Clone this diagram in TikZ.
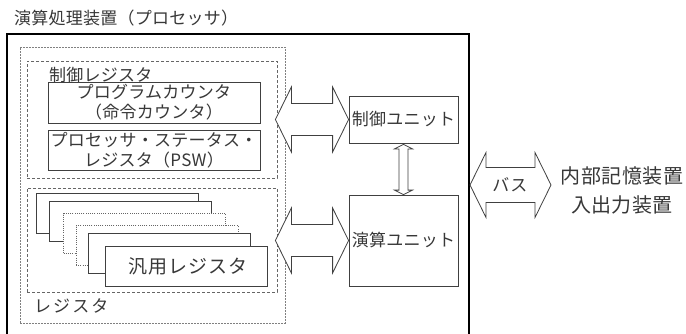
\documentclass[tikz,border=0pt]{standalone}
\usepackage{fontspec}
\setmainfont{Noto Sans CJK JP}
\usetikzlibrary{calc}
\newcommand\harrowfig[5]{%
  \draw[blockarrow] let \p1=#1, \p2=#2 in
    (\x1,\y1) -- (\x1+#3,\y1+#4) -- (\x1+#3,\y1+#5) -- (\x2-#3,\y1+#5) -- (\x2-#3,\y1+#4)
    -- (\x2,\y1) -- (\x2-#3,\y1-#4) -- (\x2-#3,\y1-#5) -- (\x1+#3,\y1-#5) -- (\x1+#3,\y1-#4) -- cycle;}
\newcommand\varrowfig[5]{%
  \draw[blockarrow] let \p1=#1, \p2=#2 in
    (\x1,\y1) -- (\x1+#4,\y1-#3) -- (\x1+#5,\y1-#3) -- (\x1+#5,\y2+#3) -- (\x1+#4,\y2+#3)
    -- (\x1,\y2) -- (\x1-#4,\y2+#3) -- (\x1-#5,\y2+#3) -- (\x1-#5,\y1-#3) -- (\x1-#4,\y1-#3) -- cycle;}
\tikzset{
  txt/.style={text=black!78, inner sep=0pt, font=\fontsize{17}{20}\selectfont\addfontfeatures{LetterSpace=1.5}, align=center},
  box/.style={draw=black!75, line width=0.8pt, fill=white, inner sep=0pt},
  dbox/.style={draw=black!60, line width=0.8pt, dash pattern=on 3pt off 2pt, inner sep=0pt},
  dotbox/.style={draw=black!60, line width=0.8pt, dash pattern=on 1pt off 1.2pt, fill=white, inner sep=0pt},
  stackbox/.style={box, minimum width=162pt, minimum height=40pt},
  blockarrow/.style={draw=black!75, line width=0.8pt, fill=white, line join=miter},
}
\begin{document}
\begin{tikzpicture}[x=1pt,y=-1pt]
\useasboundingbox (0,0) rectangle (686,333);
\fill[white] (0,0) rectangle (686,333);
% processor
\node[draw=black, line width=2pt, minimum width=462pt, minimum height=310pt, inner sep=0pt] (proc) at (238,189) {};
\node[txt, anchor=west] (title) at (14,18) {演算処理装置（プロセッサ）};
% registers outer
\node[draw=black!50, line width=0.7pt, dash pattern=on 2pt off 1pt, minimum width=265pt, minimum height=276pt, inner sep=0pt] (regouter) at (152.5,185) {};
\node[txt, anchor=west, font=\fontsize{17}{20}\selectfont\addfontfeatures{LetterSpace=12}] (reglabel) at (34,306) {レジスタ};
% control registers
\node[dbox, minimum width=250pt, minimum height=117pt] (ctrlreg) at (152,119.5) {};
\node[txt, anchor=west] (ctrlreglabel) at (49,75) {制御レジスタ};
\node[box, minimum width=212pt, minimum height=41pt] (pc) at (154,102.5) {};
\node[txt] (pctext) at (pc) {プログラムカウンタ\\（命令カウンタ）};
\node[box, minimum width=212pt, minimum height=40pt] (psw) at (154,150) {};
\node[txt] (pswtext) at (psw) {プロセッサ・ステータス・\\レジスタ（PSW）};
% general registers
\node[dbox, minimum width=250pt, minimum height=104pt] (gpreg) at (152,240) {};
\node[stackbox] (s1) at (117.5,213) {};
\node[stackbox] (s2) at (130,221) {};
\node[dotbox, minimum width=162pt, minimum height=40pt] (s3) at (144.5,233.5) {};
\node[dotbox, minimum width=162pt, minimum height=40pt] (s4) at (157,245.5) {};
\node[stackbox] (s5) at (169.5,253.5) {};
\node[stackbox] (s6) at (186,266) {};
\node[txt, font=\fontsize{19}{20}\selectfont\addfontfeatures{LetterSpace=5}] (gptext) at (188,266) {汎用レジスタ};
% units
\node[box, minimum width=109pt, minimum height=47pt] (cu) at (403.5,119.5) {};
\node[txt] (cutext) at (cu) {制御ユニット};
\node[box, minimum width=109pt, minimum height=91pt] (alu) at (403.5,240.5) {};
\node[txt] (alutext) at (alu) {演算ユニット};
% external
\node[txt, font=\fontsize{20}{29}\selectfont\addfontfeatures{LetterSpace=2.5}] (mem) at (622,190) {内部記憶装置\\入出力装置};
\coordinate (busend) at (551,185);
% arrows
\harrowfig{($(ctrlreg.east |- cu.west)+(-2pt,0)$)}{(cu.west)}{16pt}{32.5pt}{16pt}
\harrowfig{($(gpreg.east |- alu.west)+(-2pt,0)$)}{(alu.west)}{16pt}{32.5pt}{16pt}
\varrowfig{($(cu.south)+(0,-1pt)$)}{(alu.north)}{4.5pt}{9pt}{4.5pt}
\harrowfig{(proc.east |- busend)}{(busend)}{16pt}{32.5pt}{17.5pt}
\node[txt, font=\fontsize{17}{20}\selectfont\addfontfeatures{LetterSpace=6}] (bus) at (510,185) {バス};
\end{tikzpicture}
\end{document}
